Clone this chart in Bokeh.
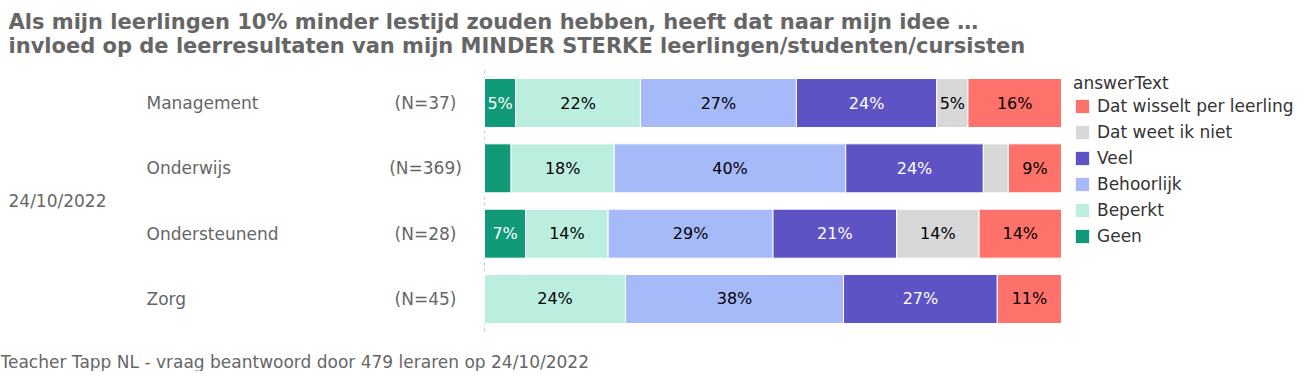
from bokeh.plotting import figure
from bokeh.models import Range1d, Legend, LegendItem, ColumnDataSource
from bokeh.embed import file_html
from bokeh.resources import INLINE
from bokeh.core.properties import value

# ---------------- data ----------------
groups = ["Management", "Onderwijs", "Ondersteunend", "Zorg"]
group_n = [37, 369, 28, 45]
date_label = "24/10/2022"
answers = ["Geen", "Beperkt", "Behoorlijk", "Veel", "Dat weet ik niet", "Dat wisselt per leerling"]
geen = [2, 17, 2, 0]
beperkt = [8, 66, 4, 11]
behoorlijk = [10, 148, 8, 17]
veel = [9, 88, 6, 12]
weet_niet = [2, 16, 4, 0]
wisselt = [6, 34, 4, 5]
title_lines = [
    "Als mijn leerlingen 10% minder lestijd zouden hebben, heeft dat naar mijn idee \u2026",
    "invloed op de leerresultaten van mijn MINDER STERKE leerlingen/studenten/cursisten",
]
footer = "Teacher Tapp NL - vraag beantwoord door 479 leraren op 24/10/2022"
legend_title = "answerText"

# ---------------- style ----------------
colors = ["#109A78", "#BBEEDF", "#A6B9F8", "#5E53C5", "#D8D8D8", "#FF726B"]
text_colors = ["white", "black", "black", "white", "black", "black"]
FONT = "DejaVu Sans"
GREY = "#666666"

W, H = 1296, 371
X0 = 484.0          # pixel of 0 %
PXP = 5.77          # pixels per percent
Y0 = 102.5          # pixel of first row centre
PYR = 65.33         # pixels per row


def fx(px):
    return (px - X0) / PXP


def fy(py):
    return (py - Y0) / PYR


p = figure(width=W, height=H, output_backend="svg", toolbar_location=None,
           x_axis_type=None, y_axis_type=None, min_border=0,
           x_range=Range1d(fx(0), fx(W)), y_range=Range1d(fy(H), fy(0)))
p.outline_line_color = None
p.grid.visible = False
p.background_fill_color = "white"
p.border_fill_color = "white"

series = [geen, beperkt, behoorlijk, veel, weet_niet, wisselt]
rows = list(range(len(groups)))
pcts = [[100.0 * s[i] / group_n[i] for i in rows] for s in series]

# zero line
p.segment(x0=[0], x1=[0], y0=[fy(70)], y1=[fy(332)], line_color="#c8c8c8",
          line_dash="3 3", line_width=1)

cum = [0.0] * len(groups)
renderers = []
for k, name in enumerate(answers):
    left = cum[:]
    right = [cum[i] + pcts[k][i] for i in rows]
    src = ColumnDataSource(dict(y=rows, left=left, right=right))
    r = p.hbar(y="y", left="left", right="right", height=0.75, source=src,
               fill_color=colors[k], line_color="white", line_width=1)
    renderers.append(r)
    lx, ly, lt = [], [], []
    for i in rows:
        if pcts[k][i] >= 5:
            lx.append((left[i] + right[i]) / 2)
            ly.append(i)
            lt.append("%d%%" % round(pcts[k][i]))
    p.text(x=lx, y=ly, text=lt, text_align="center", text_baseline="middle",
           text_font=value(FONT), text_font_size="16px", text_color=text_colors[k])
    cum = right

# row labels
p.text(x=[fx(146)] * len(groups), y=rows, text=groups, text_align="left",
       text_baseline="middle", text_font=value(FONT), text_font_size="17px",
       text_color=GREY)
p.text(x=[fx(425)] * len(groups), y=rows, text=["(N=%d)" % n for n in group_n],
       text_align="center", text_baseline="middle", text_font=value(FONT),
       text_font_size="17px", text_color=GREY)
p.text(x=[fx(8)], y=[1.5], text=[date_label], text_align="left",
       text_baseline="middle", text_font=value(FONT), text_font_size="17px",
       text_color=GREY)

# titles
p.text(x=[fx(8), fx(8)], y=[fy(21), fy(45)], text=title_lines, text_align="left",
       text_baseline="middle", text_font=value(FONT), text_font_size="21px",
       text_font_style="bold", text_color=GREY)
# footer
p.text(x=[fx(0)], y=[fy(361)], text=[footer], text_align="left",
       text_baseline="middle", text_font=value(FONT), text_font_size="17px",
       text_color=GREY)

items = [LegendItem(label=answers[k], renderers=[renderers[k]])
         for k in reversed(range(len(answers)))]
legend = Legend(items=items, title=legend_title, location=(1073, 125),
                border_line_color=None, background_fill_alpha=0, padding=0,
                margin=0, glyph_width=18, glyph_height=18, label_height=18,
                label_standoff=6, spacing=6, label_text_font=FONT,
                label_text_font_size="17px", label_text_color="#333333",
                title_text_font=FONT, title_text_font_size="17px",
                title_text_font_style="normal", title_text_color="#333333",
                title_standoff=3)
p.add_layout(legend)

open("out.html", "w").write(file_html(p, INLINE))
